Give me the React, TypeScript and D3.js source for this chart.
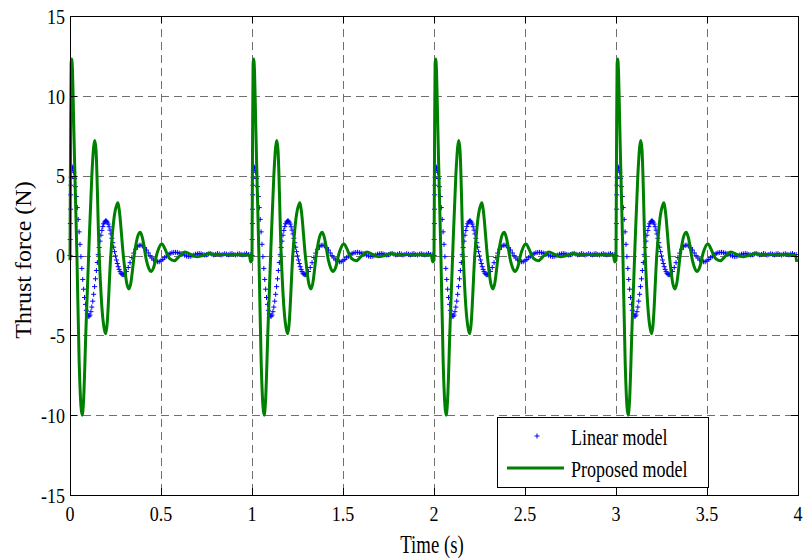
import React from "react";
import * as d3 from "d3";

// ---------- data ----------
const xTicks = [0, 0.5, 1, 1.5, 2, 2.5, 3, 3.5, 4];
const xTickLabels = ["0", "0.5", "1", "1.5", "2", "2.5", "3", "3.5", "4"];
const yTicks = [-15, -10, -5, 0, 5, 10, 15];
const yTickLabels = ["-15", "-10", "-5", "0", "5", "10", "15"];
const periodStarts = [0, 1, 2, 3];

// Linear model (one period, time offset from pulse start)
const linearT = [
  0, 0.001, 0.002, 0.003, 0.004, 0.005, 0.006, 0.008, 0.01, 0.012,
  0.015, 0.02, 0.025, 0.03, 0.035, 0.04, 0.045, 0.05, 0.055, 0.06,
  0.065, 0.07, 0.075, 0.08, 0.085, 0.09, 0.095, 0.1, 0.105, 0.11,
  0.115, 0.12, 0.125, 0.13, 0.135, 0.14, 0.145, 0.15, 0.155, 0.16,
  0.165, 0.17, 0.175, 0.18, 0.185, 0.19, 0.195, 0.2, 0.205, 0.21,
  0.215, 0.22, 0.225, 0.23, 0.235, 0.24, 0.245, 0.25, 0.255, 0.26,
  0.265, 0.27, 0.275, 0.28, 0.285, 0.29, 0.295, 0.3,
  0.31, 0.32, 0.33, 0.34, 0.35, 0.36, 0.37, 0.38, 0.39, 0.4,
  0.41, 0.42, 0.43, 0.44, 0.45, 0.46, 0.47, 0.48, 0.49, 0.5,
  0.51, 0.52, 0.53, 0.54, 0.55, 0.56, 0.57, 0.58, 0.59, 0.6,
  0.61, 0.62, 0.63, 0.64, 0.65, 0.66, 0.67, 0.68, 0.69, 0.7,
  0.71, 0.72, 0.73, 0.74, 0.75, 0.76, 0.77, 0.78, 0.79, 0.8,
  0.81, 0.82, 0.83, 0.84, 0.85, 0.86, 0.87, 0.88, 0.89, 0.9,
  0.91, 0.92, 0.93, 0.94, 0.95, 0.96, 0.97, 0.98, 0.99,
];
const linearV = [
  0, 1.0, 2.0, 2.9, 3.8, 4.4, 4.9, 5.3, 5.5, 5.55,
  5.42, 5.21, 4.82, 4.31, 3.69, 3.0, 2.26, 1.48, 0.7, -0.07,
  -0.81, -1.5, -2.11, -2.63, -3.06, -3.43, -3.65, -3.79, -3.81, -3.73,
  -3.52, -3.23, -2.86, -2.43, -1.95, -1.46, -0.94, -0.44, 0.05, 0.5,
  0.9, 1.27, 1.57, 1.81, 1.99, 2.1, 2.16, 2.16, 2.09, 1.97,
  1.8, 1.59, 1.35, 1.08, 0.8, 0.52, 0.24, -0.03, -0.28, -0.5,
  -0.7, -0.87, -1.01, -1.11, -1.17, -1.2, -1.2, -1.16,
  -1.0, -0.75, -0.45, -0.13, 0.15, 0.39, 0.55, 0.64, 0.65, 0.6,
  0.49, 0.34, 0.16, -0.01, -0.16, -0.28, -0.36, -0.39, -0.39, -0.33,
  -0.25, -0.14, -0.04, 0.05, 0.12, 0.17, 0.19, 0.2, 0.18, 0.15,
  0.12, 0.08, 0.02, -0.03, -0.06, -0.05, -0.02, 0.03, 0.08, 0.1,
  0.12, 0.1, 0.06, 0.03, 0.05, 0.1, 0.13, 0.08, 0.04, 0.07,
  0.12, 0.09, 0.03, 0.06, 0.11, 0.08, 0.04, 0.09, 0.12, 0.06,
  0.03, 0.08, 0.11, 0.07, 0.04, 0.09, 0.12, 0.06, 0.05,
];

// Proposed model (one period, time offset from pulse start)
const proposedT = [
  0, 0.003, 0.006, 0.009, 0.014, 0.02, 0.025, 0.038, 0.05, 0.06,
  0.067, 0.074, 0.088, 0.104, 0.12, 0.13, 0.136, 0.143, 0.159, 0.175,
  0.19, 0.196, 0.203, 0.224, 0.245, 0.258, 0.263, 0.27, 0.293, 0.313,
  0.324, 0.333, 0.355, 0.375, 0.386, 0.398, 0.42, 0.44, 0.447, 0.458,
  0.48, 0.5, 0.507, 0.52, 0.548, 0.573, 0.6, 0.632, 0.66, 0.696,
  0.73, 0.765, 0.8, 0.85, 0.9, 0.95, 0.985, 0.993,
];
const proposedV = [
  -0.3, 7, 12.0, 12.3, 11.5, 8.5, 6.0, 0.0, -6.5, -9.4,
  -10.0, -9.2, -4.5, 0.5, 5.0, 6.8, 7.2, 6.6, 0.5, -3.2,
  -4.7, -4.9, -4.4, 0.0, 2.6, 3.2, 3.3, 2.9, 0.0, -1.8,
  -2.1, -1.8, 0.2, 1.3, 1.45, 1.1, -0.3, -0.95, -1.0, -0.8,
  0.2, 0.7, 0.72, 0.45, -0.2, -0.33, -0.05, 0.22, 0.08, -0.08,
  0.0, 0.12, 0.05, 0.06, 0.04, 0.05, 0.02, -0.4,
];

const legendLabels = ["Linear model", "Proposed model"];
const xLabel = "Time (s)";
const yLabel = "Thrust force (N)";

// ---------- layout ----------
const W = 803;
const H = 558;
const left = 70;
const right = 798;
const top = 16;
const bottom = 495;
const FONT = "'Liberation Serif', 'Times New Roman', serif";
const GREEN = "#008000";
const BLUE = "#0000ff";

export default function App() {
  const x = d3.scaleLinear().domain([0, 4]).range([left, right]);
  const y = d3.scaleLinear().domain([-15, 15]).range([bottom, top]);

  const linPts: [number, number][] = [];
  const propPts: [number, number][] = [];
  periodStarts.forEach((p) => {
    linearT.forEach((t, i) => linPts.push([p + t, linearV[i]]));
    proposedT.forEach((t, i) => propPts.push([p + t, proposedV[i]]));
  });

  const line = d3
    .line<[number, number]>()
    .x((d) => x(d[0]))
    .y((d) => y(d[1]))
    .curve(d3.curveMonotoneX);

  const plusPath = (cx: number, cy: number, r: number) =>
    `M${cx - r},${cy}h${2 * r}M${cx},${cy - r}v${2 * r}`;
  const markers = linPts.map((d) => plusPath(x(d[0]), y(d[1]), 2.5)).join("");

  const tickLen = 7;

  return (
    <svg
      width={W}
      height={H}
      style={{ position: "absolute", left: 0, top: 0, background: "#fff" }}
      fontFamily={FONT}
    >
      <rect x={0} y={0} width={W} height={H} fill="#fff" />
      {/* grid */}
      <g stroke="#707070" strokeWidth={1} strokeDasharray="8,5" shapeRendering="crispEdges">
        {xTicks
          .filter((t) => t > 0 && t < 4)
          .map((t) => (
            <line key={"gx" + t} x1={Math.round(x(t)) + 0.5} x2={Math.round(x(t)) + 0.5} y1={top} y2={bottom} />
          ))}
        {yTicks
          .filter((t) => t > -15 && t < 15)
          .map((t) => (
            <line key={"gy" + t} y1={Math.round(y(t)) + 0.5} y2={Math.round(y(t)) + 0.5} x1={left} x2={right} />
          ))}
      </g>

      {/* data */}
      <path d={markers} stroke={BLUE} strokeWidth={1} fill="none" />
      <path d={line(propPts) || ""} stroke={GREEN} strokeWidth={3} fill="none" strokeLinejoin="round" />

      {/* axes box and ticks */}
      <g stroke="#000" strokeWidth={1} shapeRendering="crispEdges" fill="none">
        <rect x={left + 0.5} y={top + 0.5} width={right - left} height={bottom - top} />
        {xTicks.map((t) => (
          <g key={"xt" + t}>
            <line x1={Math.round(x(t)) + 0.5} x2={Math.round(x(t)) + 0.5} y1={bottom} y2={bottom - tickLen} />
            <line x1={Math.round(x(t)) + 0.5} x2={Math.round(x(t)) + 0.5} y1={top} y2={top + tickLen} />
          </g>
        ))}
        {yTicks.map((t) => (
          <g key={"yt" + t}>
            <line y1={Math.round(y(t)) + 0.5} y2={Math.round(y(t)) + 0.5} x1={left} x2={left + tickLen} />
            <line y1={Math.round(y(t)) + 0.5} y2={Math.round(y(t)) + 0.5} x1={right} x2={right - tickLen} />
          </g>
        ))}
      </g>

      {/* tick labels */}
      <g fontSize={22} fill="#000">
        {xTicks.map((t, i) => (
          <g key={"xl" + t} transform={`translate(${x(t)},${521}) scale(0.82,1)`}>
            <text textAnchor="middle">{xTickLabels[i]}</text>
          </g>
        ))}
        {yTicks.map((t, i) => (
          <g key={"yl" + t} transform={`translate(${65},${y(t)}) scale(0.82,1)`}>
            <text textAnchor="end" dy="0.35em">
              {yTickLabels[i]}
            </text>
          </g>
        ))}
      </g>

      {/* axis labels */}
      <g transform={`translate(${(left + right) / 2 - 2},${553}) scale(0.75,1)`}>
        <text textAnchor="middle" fontSize={25} fill="#000">
          {xLabel}
        </text>
      </g>
      <text
        transform={`translate(${31},${260}) rotate(-90)`}
        textAnchor="middle"
        fontSize={24}
        fill="#000"
      >
        {yLabel}
      </text>

      {/* legend */}
      <g>
        <rect x={497.5} y={417.5} width={211} height={70} fill="#fff" stroke="#000" strokeWidth={1} shapeRendering="crispEdges" />
        <path d={plusPath(537, 436, 2.5)} stroke={BLUE} strokeWidth={1} fill="none" />
        <line x1={507} x2={564} y1={468} y2={468} stroke={GREEN} strokeWidth={3} />
        <g transform={`translate(${571},${445}) scale(0.75,1)`}>
          <text fontSize={24} fill="#000">{legendLabels[0]}</text>
        </g>
        <g transform={`translate(${571},${477}) scale(0.75,1)`}>
          <text fontSize={24} fill="#000">{legendLabels[1]}</text>
        </g>
      </g>
    </svg>
  );
}
